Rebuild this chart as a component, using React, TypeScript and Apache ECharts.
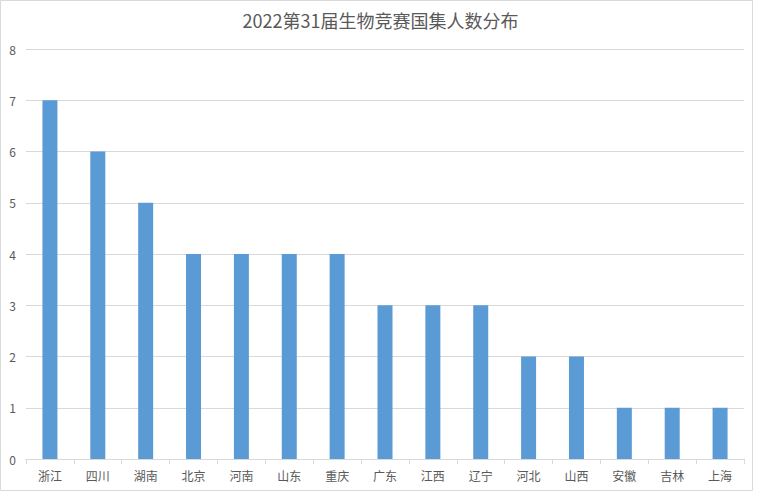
import React, { useEffect, useRef } from "react";
import * as echarts from "echarts";

const categories = ["浙江", "四川", "湖南", "北京", "河南", "山东", "重庆", "广东", "江西", "辽宁", "河北", "山西", "安徽", "吉林", "上海"];
const counts = [7, 6, 5, 4, 4, 4, 4, 3, 3, 3, 2, 2, 1, 1, 1];
const titleText = "2022第31届生物竞赛国集人数分布";

export default function App() {
  const ref = useRef<HTMLDivElement>(null);
  useEffect(() => {
    document.body.style.margin = "0";
    const chart = echarts.init(ref.current!, null, { renderer: "svg" });
    const font = "'Noto Sans CJK SC', 'Noto Sans', sans-serif";
    chart.setOption({
      animation: false,
      backgroundColor: "#ffffff",
      title: {
        text: titleText,
        left: "center",
        top: 6,
        textStyle: { fontSize: 18, fontWeight: "normal", color: "#595959", fontFamily: font },
      },
      graphic: [
        {
          type: "rect",
          shape: { x: 0.5, y: 0.5, width: 752, height: 490 },
          style: { fill: "none", stroke: "#D9D9D9", lineWidth: 1 },
          silent: true,
        },
      ],
      grid: { left: 26, right: 17, top: 49, bottom: 38, containLabel: false },
      xAxis: {
        type: "category",
        data: categories,
        axisLine: { lineStyle: { color: "#D9D9D9" } },
        axisTick: { show: true, alignWithLabel: false, length: 5, lineStyle: { color: "#D9D9D9" } },
        axisLabel: { color: "#595959", fontSize: 12, margin: 10, fontFamily: font },
      },
      yAxis: {
        type: "value",
        min: 0,
        max: 8,
        interval: 1,
        axisLine: { show: false },
        axisTick: { show: false },
        splitLine: { lineStyle: { color: "#D9D9D9" } },
        axisLabel: { color: "#595959", fontSize: 12, margin: 10, fontFamily: font },
      },
      series: [
        {
          type: "bar",
          data: counts,
          barWidth: 15,
          itemStyle: { color: "#5B9BD5" },
        },
      ],
    });
    return () => chart.dispose();
  }, []);
  return <div ref={ref} style={{ width: 761, height: 497 }} />;
}
